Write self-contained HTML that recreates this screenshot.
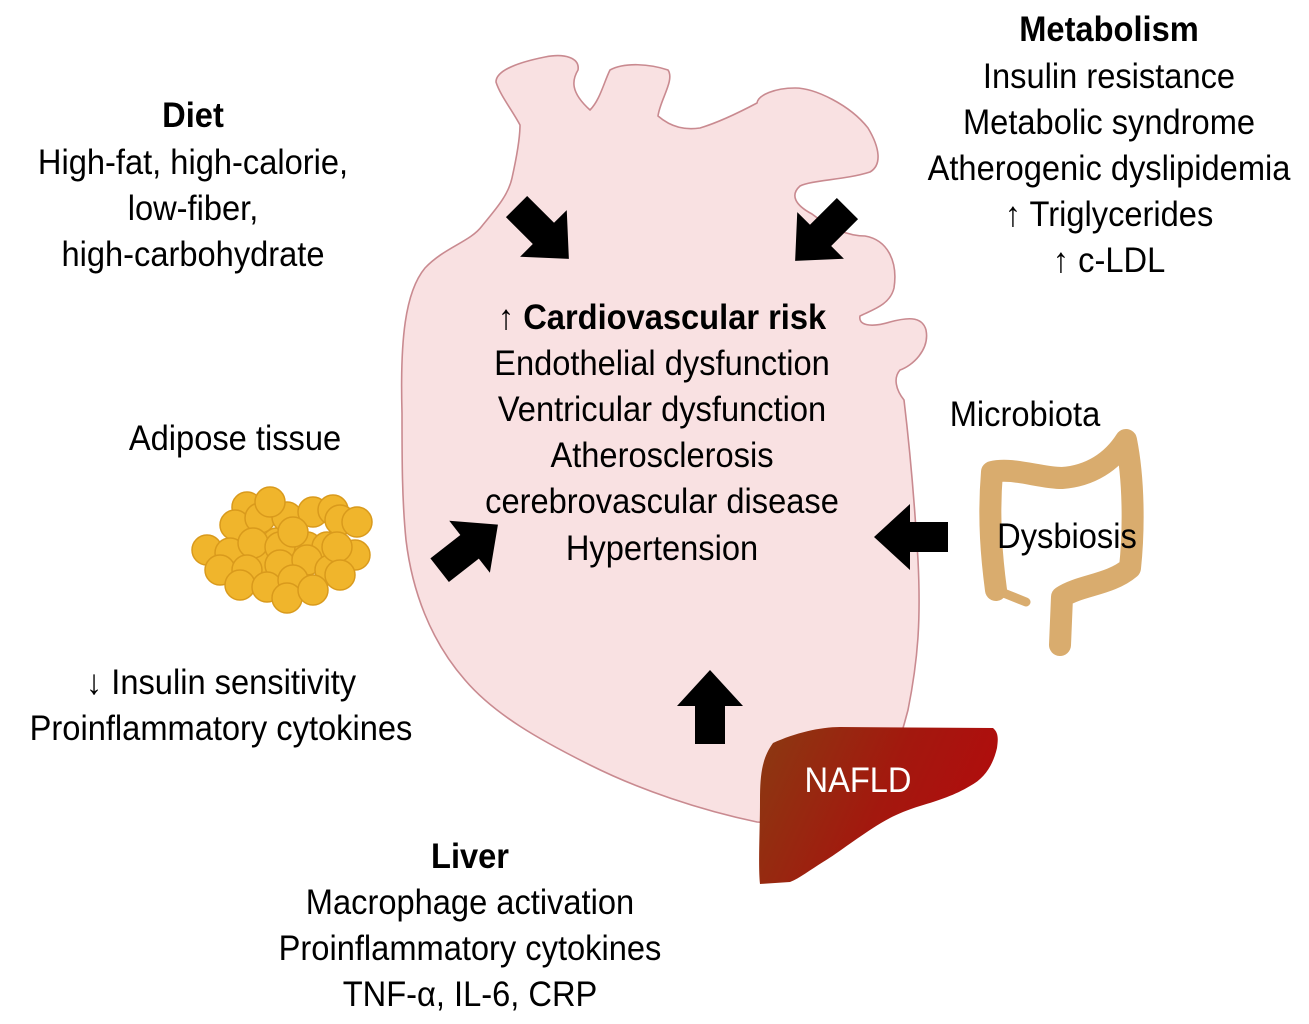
<!DOCTYPE html>
<html><head><meta charset="utf-8"><style>
html,body{margin:0;padding:0;background:#fff;}
svg{display:block;}
text{font-family:"Liberation Sans",sans-serif;font-size:35px;fill:#000;}
</style></head><body>
<svg width="1309" height="1024" viewBox="0 0 1309 1024" xmlns="http://www.w3.org/2000/svg">
<defs>
<linearGradient id="lv" x1="0" y1="0" x2="1" y2="0.3">
<stop offset="0" stop-color="#8a3a12"/><stop offset="0.6" stop-color="#a3180e"/><stop offset="1" stop-color="#b00d0d"/>
</linearGradient>
<polygon id="arr" points="-36,-15 2,-15 2,-33 38,0 2,33 2,15 -36,15"/>
</defs>
<!-- heart -->
<path fill="#f9e1e2" stroke="#c98a90" stroke-width="1.6" stroke-linejoin="round" d="
M 402,413 C 400,340 405,292 425,268 C 445,247 470,242 482,226 C 495,210 508,196 512,178
C 516,160 520,140 520,125 C 512,110 500,95 496,82 C 496,70 520,62 545,57 C 565,53 580,58 578,70
C 572,80 570,92 590,110 C 600,100 604,82 610,70 C 625,62 650,64 668,70 C 675,80 660,100 658,116
C 672,128 686,130 700,128 C 720,122 740,112 757,103 C 758,95 775,88 795,88 C 815,88 850,105 868,128
C 880,148 882,165 870,172 C 845,180 812,180 800,186 C 790,195 795,205 812,214 C 830,228 848,236 865,236
C 888,240 898,262 894,288 C 890,305 872,310 860,316 C 858,325 870,328 890,322 C 905,318 922,315 926,330
C 930,350 912,366 900,370 C 893,378 896,390 904,400 C 910,450 915,510 918,560 C 921,620 918,660 908,710
C 895,760 878,800 862,830 L 757,822 C 700,810 640,790 590,765 C 540,740 495,715 465,680
C 430,640 412,590 406,540 C 402,500 402,460 402,413 Z"/>
<!-- liver -->
<path fill="url(#lv)" d="M773,743 C 795,733 820,727 840,727 L 993,728 C 999,733 998,740 997,748 C 993,765 985,778 970,786 C 955,795 940,800 920,806 C 900,812 885,820 873,828 C 850,843 835,855 823,862 C 810,870 800,878 790,882 L 760,884 C 758,865 760,830 760,800 C 760,775 762,758 773,743 Z"/>
<!-- adipose -->
<g fill="#f0b52c" stroke="#d99a1c" stroke-width="1.5">
<circle cx="247" cy="536" r="15"/><circle cx="277" cy="543" r="15"/><circle cx="307" cy="547" r="15"/><circle cx="260" cy="560" r="15"/><circle cx="295" cy="566" r="15"/>
<circle cx="247" cy="507" r="15"/><circle cx="235" cy="525" r="15"/><circle cx="260" cy="518" r="15"/><circle cx="287" cy="517" r="15"/><circle cx="313" cy="512" r="15"/><circle cx="333" cy="510" r="15"/>
<circle cx="207" cy="550" r="15"/><circle cx="230" cy="553" r="15"/><circle cx="253" cy="543" r="15"/><circle cx="280" cy="547" r="15"/><circle cx="327" cy="547" r="15"/>
<circle cx="220" cy="570" r="15"/><circle cx="247" cy="570" r="15"/><circle cx="280" cy="565" r="15"/><circle cx="307" cy="560" r="15"/><circle cx="330" cy="570" r="15"/>
<circle cx="240" cy="585" r="15"/><circle cx="267" cy="587" r="15"/><circle cx="293" cy="580" r="15"/><circle cx="287" cy="598" r="15"/><circle cx="313" cy="590" r="15"/>
<circle cx="270" cy="502" r="15"/><circle cx="293" cy="532" r="15"/><circle cx="340" cy="520" r="15"/><circle cx="357" cy="522" r="15"/><circle cx="355" cy="555" r="15"/>
<circle cx="337" cy="547" r="15"/><circle cx="340" cy="575" r="15"/>
</g>
<!-- intestine -->
<path fill="none" stroke="#d9ac6e" stroke-width="22" stroke-linecap="round" stroke-linejoin="round" d="M996,590 C 992,560 988,520 992,472 C 1012,467 1040,478 1062,478 C 1090,476 1112,462 1126,440 C 1134,480 1134,530 1130,568 C 1110,585 1080,585 1062,597 L 1060,645"/>
<path fill="none" stroke="#d9ac6e" stroke-width="9" stroke-linecap="round" d="M996,590 L 1026,602"/>
<!-- arrows -->
<g fill="#000">
<use href="#arr" transform="translate(542,232) rotate(45)"/>
<use href="#arr" transform="translate(822,234) rotate(135)"/>
<use href="#arr" transform="translate(468,548) rotate(-38)"/>
<use href="#arr" transform="translate(912,537) rotate(180)"/>
<use href="#arr" transform="translate(710,708) rotate(-90)"/>
</g>
<!-- text -->
<g text-anchor="middle">
<text transform="translate(193,127) scale(0.933,1)" font-weight="bold">Diet</text>
<text transform="translate(193,174) scale(0.933,1)">High-fat, high-calorie,</text>
<text transform="translate(193,220) scale(0.933,1)">low-fiber,</text>
<text transform="translate(193,266) scale(0.933,1)">high-carbohydrate</text>

<text transform="translate(1109,41) scale(0.933,1)" font-weight="bold">Metabolism</text>
<text transform="translate(1109,88) scale(0.933,1)">Insulin resistance</text>
<text transform="translate(1109,134) scale(0.933,1)">Metabolic syndrome</text>
<text transform="translate(1109,180) scale(0.933,1)">Atherogenic dyslipidemia</text>
<text transform="translate(1109,226) scale(0.933,1)">↑ Triglycerides</text>
<text transform="translate(1109,272) scale(0.933,1)">↑ c-LDL</text>

<text transform="translate(662,329) scale(0.933,1)"><tspan>↑ </tspan><tspan font-weight="bold">Cardiovascular risk</tspan></text>
<text transform="translate(662,375) scale(0.933,1)">Endothelial dysfunction</text>
<text transform="translate(662,421) scale(0.933,1)">Ventricular dysfunction</text>
<text transform="translate(662,467) scale(0.933,1)">Atherosclerosis</text>
<text transform="translate(662,513) scale(0.933,1)">cerebrovascular disease</text>
<text transform="translate(662,560) scale(0.933,1)">Hypertension</text>

<text transform="translate(235,450) scale(0.933,1)">Adipose tissue</text>
<text transform="translate(1025,426) scale(0.933,1)">Microbiota</text>
<text transform="translate(1067,548) scale(0.933,1)">Dysbiosis</text>
<text transform="translate(221,694) scale(0.933,1)">↓ Insulin sensitivity</text>
<text transform="translate(221,740) scale(0.933,1)">Proinflammatory cytokines</text>
<text transform="translate(858,792) scale(0.933,1)" style="fill:#fff">NAFLD</text>

<text transform="translate(470,868) scale(0.933,1)" font-weight="bold">Liver</text>
<text transform="translate(470,914) scale(0.933,1)">Macrophage activation</text>
<text transform="translate(470,960) scale(0.933,1)">Proinflammatory cytokines</text>
<text transform="translate(470,1006) scale(0.933,1)">TNF-α, IL-6, CRP</text>
</g>
</svg>
</body></html>
